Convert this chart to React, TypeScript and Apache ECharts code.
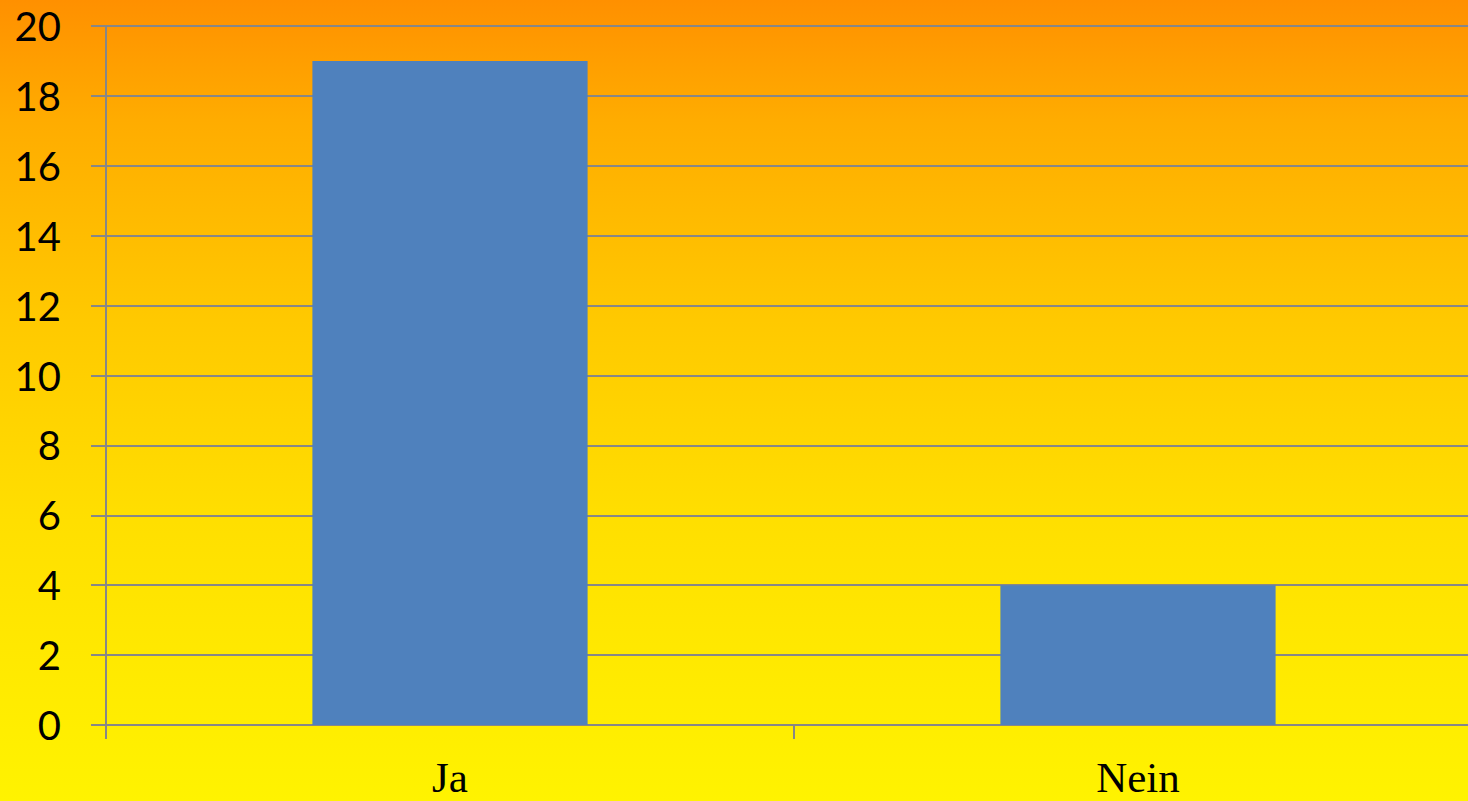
import React, { useEffect, useRef } from "react";
import * as echarts from "echarts";

const categories = ["Ja", "Nein"];
const values = [19, 4];
const yMin = 0;
const yMax = 20;
const yStep = 2;

export default function App() {
  const ref = useRef<HTMLDivElement>(null);
  useEffect(() => {
    if (!ref.current) return;
    const chart = echarts.init(ref.current, undefined, { renderer: "svg" });
    chart.setOption({
      animation: false,
      backgroundColor: new echarts.graphic.LinearGradient(0, 0, 0, 1, [
        { offset: 0, color: "#FF9000" },
        { offset: 0.15, color: "#FFAC00" },
        { offset: 0.4, color: "#FFC900" },
        { offset: 0.65, color: "#FFDF00" },
        { offset: 1, color: "#FFF300" },
      ]),
      grid: {
        left: 106,
        right: 0,
        top: 26,
        bottom: 76,
        containLabel: false,
        outerBoundsMode: "none",
      },
      xAxis: {
        type: "category",
        data: categories,
        boundaryGap: true,
        axisLine: { show: true, lineStyle: { color: "#878787", width: 2 } },
        axisTick: { show: true, length: 14, alignWithLabel: false, lineStyle: { color: "#878787", width: 2 } },
        axisLabel: {
          color: "#000",
          fontFamily: "Liberation Serif",
          fontSize: 43,
          lineHeight: 34,
          margin: 35,
        },
        splitLine: { show: false },
      },
      yAxis: {
        type: "value",
        min: yMin,
        max: yMax,
        interval: yStep,
        axisLine: { show: true, lineStyle: { color: "#878787", width: 2 } },
        axisTick: { show: true, length: 15, lineStyle: { color: "#878787", width: 2 } },
        axisLabel: {
          color: "#000",
          fontFamily: "Lato",
          fontSize: 40,
          margin: 45,
        },
        splitLine: { show: true, lineStyle: { color: "#878787", width: 2 } },
      },
      series: [
        {
          type: "bar",
          data: values,
          barWidth: "40%",
          itemStyle: { color: "#4F81BD" },
        },
      ],
    });
    return () => chart.dispose();
  }, []);
  return (
    <div style={{ position: "fixed", left: 0, top: 0, width: 1468, height: 801, overflow: "hidden" }}>
      <div ref={ref} style={{ width: 1482, height: 801 }} />
    </div>
  );
}
